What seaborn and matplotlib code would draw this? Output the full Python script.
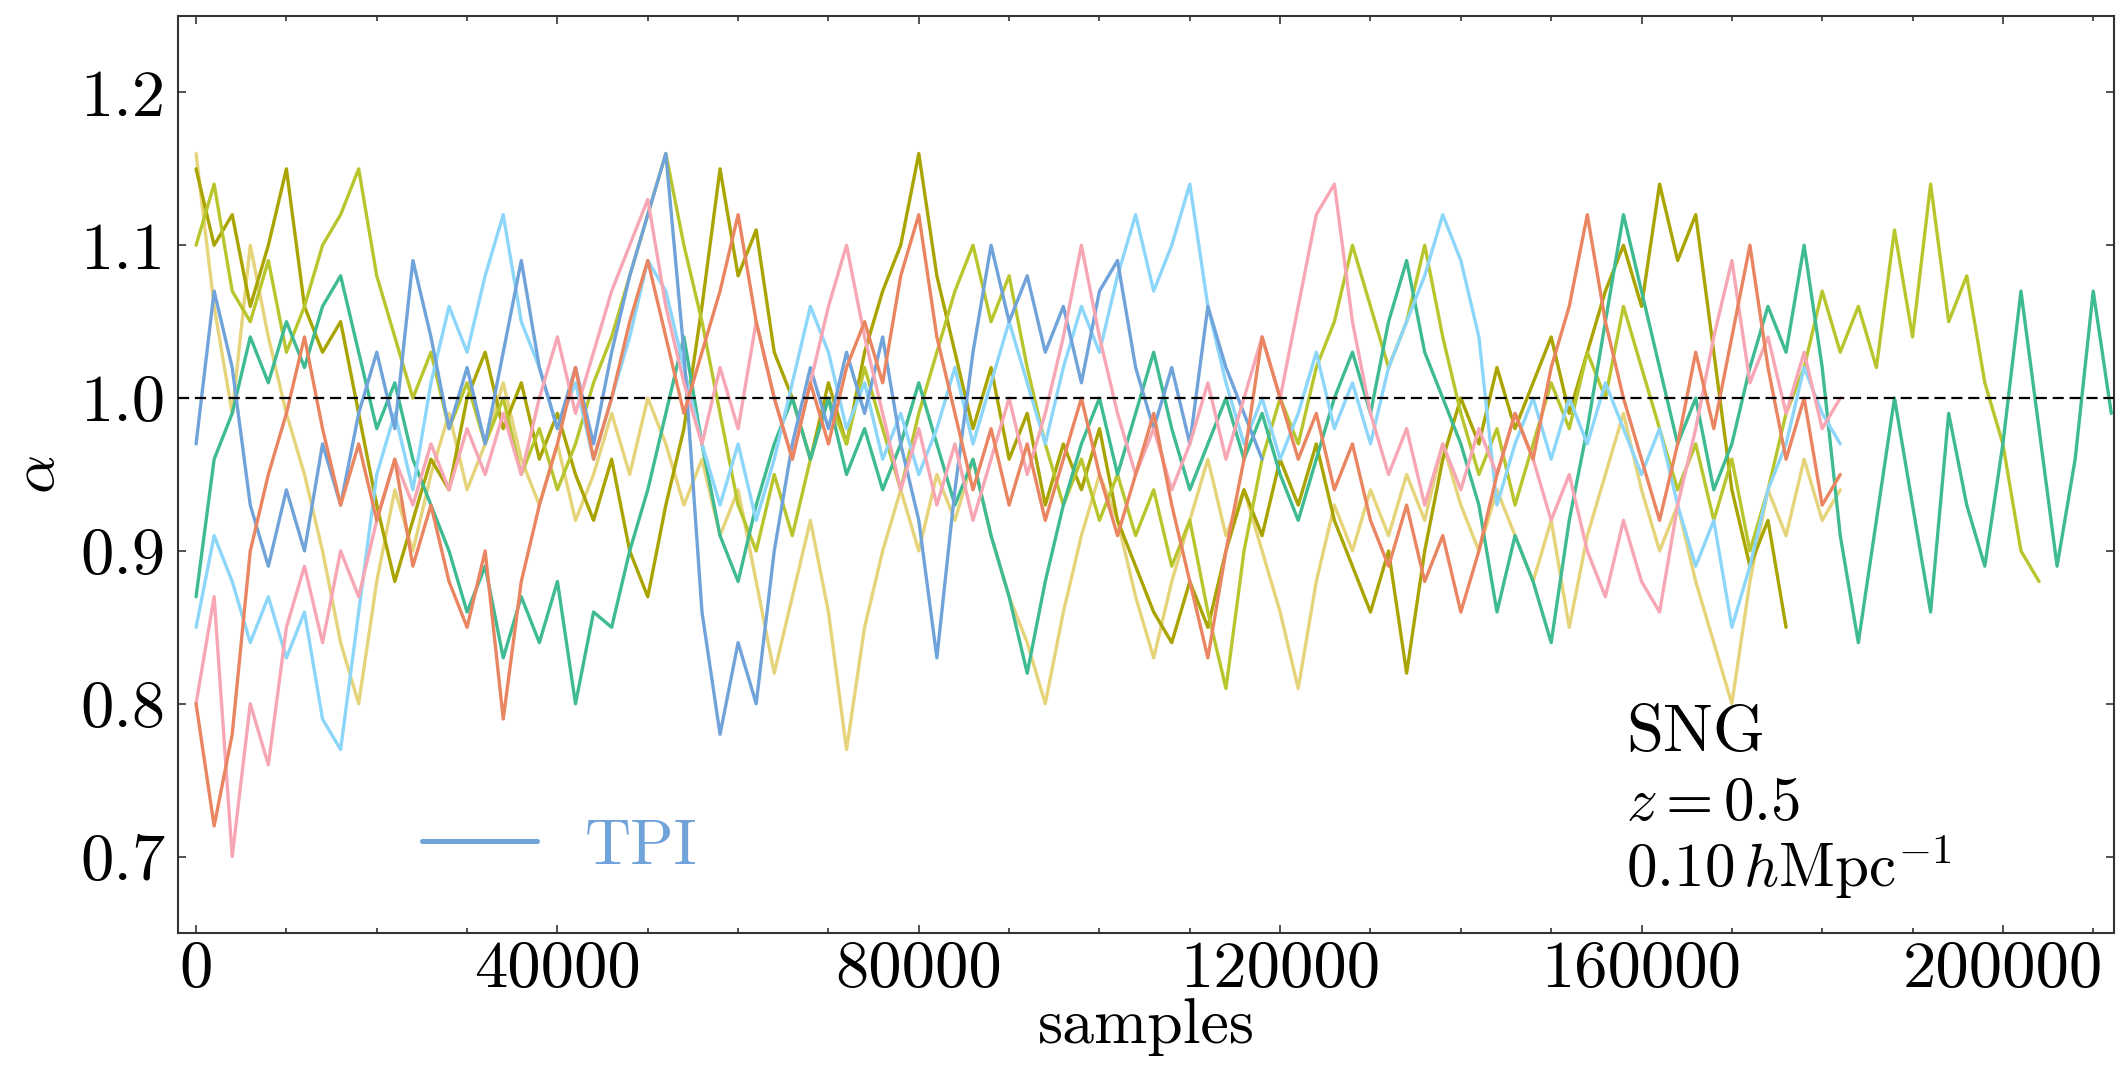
import numpy as np
import pandas as pd
import matplotlib
matplotlib.use("Agg")
import matplotlib.pyplot as plt
from matplotlib.ticker import MultipleLocator
import seaborn as sns

# ---------------- data (one value every STEP samples) -------------
STEP = 2000

olive = [1.15, 1.10, 1.12, 1.06, 1.10, 1.15, 1.06, 1.03, 1.05, 0.99, 0.93, 0.88, 0.92, 0.96, 0.94,
         1.00, 1.03, 0.98, 1.01, 0.96, 0.99, 0.95, 0.92, 0.96, 0.90, 0.87, 0.93, 0.98, 1.06, 1.15,
         1.08, 1.11, 1.03, 1.00, 0.96, 1.01, 0.97, 1.03, 1.07, 1.10, 1.16, 1.08, 1.03, 0.98, 1.02,
         0.96, 0.99, 0.93, 0.97, 0.94, 0.98, 0.92, 0.89, 0.86, 0.84, 0.88, 0.85, 0.90, 0.94, 0.91,
         0.96, 0.93, 0.97, 0.92, 0.89, 0.86, 0.90, 0.82, 0.90, 0.96, 1.00, 0.97, 1.02, 0.98, 1.01,
         1.04, 0.99, 1.03, 1.07, 1.10, 1.06, 1.14, 1.09, 1.12, 1.03, 0.94, 0.89, 0.92, 0.85]

yellowgreen = [1.10, 1.14, 1.07, 1.05, 1.09, 1.03, 1.06, 1.10, 1.12, 1.15, 1.08, 1.04, 1.00, 1.03,
               0.98, 1.01, 0.97, 1.00, 0.95, 0.98, 0.94, 0.97, 1.01, 1.04, 1.08, 1.12, 1.16, 1.10,
               1.05, 0.99, 0.93, 0.90, 0.95, 0.91, 0.96, 1.00, 0.97, 1.02, 0.98, 0.94, 0.99, 1.03,
               1.07, 1.10, 1.05, 1.08, 1.02, 0.97, 0.93, 0.96, 0.92, 0.95, 0.91, 0.94, 0.89, 0.92,
               0.86, 0.81, 0.90, 0.96, 1.00, 0.97, 1.02, 1.05, 1.10, 1.06, 1.02, 1.05, 1.10, 1.04,
               0.99, 0.95, 0.98, 0.93, 0.97, 1.01, 0.98, 1.03, 1.00, 1.06, 1.02, 0.98, 0.94, 0.97,
               0.92, 0.96, 0.90, 0.94, 0.99, 1.02, 1.07, 1.03, 1.06, 1.02, 1.11, 1.04, 1.14, 1.05,
               1.08, 1.01, 0.97, 0.90, 0.88]

teal = [0.87, 0.96, 0.99, 1.04, 1.01, 1.05, 1.02, 1.06, 1.08, 1.03, 0.98, 1.01, 0.96, 0.93, 0.90,
        0.86, 0.89, 0.83, 0.87, 0.84, 0.88, 0.80, 0.86, 0.85, 0.90, 0.94, 0.99, 1.04, 0.97, 0.91,
        0.88, 0.93, 0.97, 1.00, 0.96, 1.00, 0.95, 0.98, 0.94, 0.97, 1.01, 0.97, 0.93, 0.96, 0.91,
        0.87, 0.82, 0.88, 0.93, 0.97, 1.00, 0.95, 0.99, 1.03, 0.98, 0.94, 0.97, 1.00, 0.96, 0.99,
        0.95, 0.92, 0.96, 1.00, 1.03, 0.99, 1.05, 1.09, 1.03, 1.00, 0.97, 0.93, 0.86, 0.91, 0.88,
        0.84, 0.92, 0.98, 1.05, 1.12, 1.07, 1.02, 0.97, 1.00, 0.94, 0.97, 1.02, 1.06, 1.03, 1.10,
        1.02, 0.91, 0.84, 0.92, 1.00, 0.93, 0.86, 0.99, 0.93, 0.89, 0.97, 1.07, 0.98, 0.89, 0.96,
        1.07, 0.99]

lightblue = [0.85, 0.91, 0.88, 0.84, 0.87, 0.83, 0.86, 0.79, 0.77, 0.86, 0.95, 0.99, 0.94, 1.01,
             1.06, 1.03, 1.08, 1.12, 1.05, 1.02, 0.98, 1.01, 0.96, 1.00, 1.04, 1.09, 1.07, 1.02,
             0.97, 0.93, 0.97, 0.92, 0.96, 1.01, 1.06, 1.03, 0.98, 1.01, 0.96, 0.99, 0.95, 0.98,
             1.02, 0.97, 1.01, 1.05, 1.01, 0.97, 1.02, 1.06, 1.03, 1.08, 1.12, 1.07, 1.10, 1.14,
             1.06, 1.01, 0.97, 1.00, 0.96, 0.99, 1.03, 0.98, 1.01, 0.97, 1.02, 1.05, 1.08, 1.12,
             1.09, 1.04, 0.93, 0.97, 1.00, 0.96, 1.00, 0.97, 1.01, 0.98, 0.95, 0.98, 0.93, 0.89,
             0.92, 0.85, 0.89, 0.94, 0.97, 1.02, 0.99, 0.97]

tpi = [0.97, 1.07, 1.02, 0.93, 0.89, 0.94, 0.90, 0.97, 0.93, 0.99, 1.03, 0.98, 1.09, 1.04, 0.98,
       1.02, 0.97, 1.03, 1.09, 1.02, 0.98, 1.02, 0.97, 1.03, 1.08, 1.12, 1.16, 1.03, 0.86, 0.78,
       0.84, 0.80, 0.90, 0.97, 1.02, 0.98, 1.03, 0.99, 1.04, 0.97, 0.92, 0.83, 0.94, 1.03, 1.10,
       1.05, 1.08, 1.03, 1.06, 1.01, 1.07, 1.09, 1.02, 0.98, 1.02, 0.97, 1.06, 1.02, 0.99, 0.96]

salmon = [0.80, 0.72, 0.78, 0.90, 0.95, 0.99, 1.04, 0.98, 0.93, 0.97, 0.92, 0.96, 0.89, 0.93,
          0.88, 0.85, 0.90, 0.79, 0.88, 0.93, 0.97, 1.02, 0.96, 1.00, 1.05, 1.09, 1.04, 0.99,
          1.03, 1.07, 1.12, 1.05, 1.00, 0.96, 1.01, 0.97, 1.02, 1.05, 1.01, 1.08, 1.12, 1.04,
          0.99, 0.94, 0.98, 0.93, 0.97, 0.92, 0.96, 1.00, 0.95, 0.91, 0.95, 0.99, 0.93, 0.88,
          0.83, 0.90, 0.96, 1.04, 1.00, 0.96, 0.99, 0.94, 0.97, 0.92, 0.89, 0.93, 0.88, 0.91,
          0.86, 0.90, 0.95, 0.99, 0.96, 1.02, 1.06, 1.12, 1.05, 1.00, 0.96, 0.92, 0.97, 1.03,
          0.98, 1.04, 1.10, 1.02, 0.96, 1.00, 0.93, 0.95]

pink = [0.80, 0.87, 0.70, 0.80, 0.76, 0.85, 0.89, 0.84, 0.90, 0.87, 0.92, 0.96, 0.93, 0.97, 0.94,
        0.98, 0.95, 0.99, 0.95, 1.00, 1.04, 0.99, 1.03, 1.07, 1.10, 1.13, 1.06, 1.01, 0.97, 1.02,
        0.98, 1.05, 1.00, 0.96, 1.01, 1.06, 1.10, 1.04, 0.99, 0.94, 0.98, 0.93, 0.97, 0.92, 0.96,
        1.00, 0.95, 0.99, 1.04, 1.10, 1.04, 0.99, 0.95, 0.98, 0.94, 0.97, 1.01, 0.96, 1.00, 1.04,
        1.00, 1.06, 1.12, 1.14, 1.05, 0.99, 0.95, 0.98, 0.93, 0.97, 0.94, 0.98, 0.95, 0.99, 0.96,
        0.92, 0.95, 0.90, 0.87, 0.92, 0.88, 0.86, 0.93, 0.98, 1.04, 1.09, 1.01, 1.04, 0.99, 1.03,
        0.98, 1.00]

khaki = [1.16, 1.06, 0.99, 1.10, 1.04, 0.99, 0.95, 0.90, 0.84, 0.80, 0.88, 0.94, 0.90, 0.95, 0.99,
         0.94, 0.97, 1.01, 0.96, 0.93, 0.97, 0.92, 0.95, 0.99, 0.95, 1.00, 0.97, 0.93, 0.96, 0.91,
         0.94, 0.88, 0.82, 0.87, 0.92, 0.86, 0.77, 0.85, 0.90, 0.94, 0.90, 0.95, 0.92, 0.96, 0.91,
         0.87, 0.84, 0.80, 0.86, 0.91, 0.95, 0.92, 0.87, 0.83, 0.88, 0.92, 0.96, 0.91, 0.94, 0.90,
         0.86, 0.81, 0.88, 0.93, 0.90, 0.94, 0.91, 0.95, 0.92, 0.97, 0.93, 0.90, 0.94, 0.91, 0.88,
         0.92, 0.85, 0.91, 0.95, 0.99, 0.94, 0.90, 0.93, 0.88, 0.84, 0.80, 0.88, 0.94, 0.91, 0.96,
         0.92, 0.94]

chain_names = ["khaki", "olive", "yellowgreen", "teal", "lightblue", "TPI", "pink", "salmon"]
chain_values = [khaki, olive, yellowgreen, teal, lightblue, tpi, pink, salmon]
chain_colors = ["#e6d47b", "#a9a400", "#b8c52d", "#3fbb93", "#8cd6fa", "#70a3da", "#f7a6b4", "#ea8562"]

xticks = [0, 40000, 80000, 120000, 160000, 200000]
yticks = [0.7, 0.8, 0.9, 1.0, 1.1, 1.2]
reference_value = 1.0

# ---------------- style ----------------
sns.set_style("ticks")
plt.rcParams["font.family"] = ["cmr10", "DejaVu Serif"]
plt.rcParams["mathtext.fontset"] = "cm"
plt.rcParams["axes.formatter.use_mathtext"] = True
plt.rcParams["axes.unicode_minus"] = False
for key in ["text.color", "axes.labelcolor", "xtick.labelcolor", "ytick.labelcolor"]:
    plt.rcParams[key] = "black"

W, H = 2125, 1070
fig = plt.figure(figsize=(W / 100, H / 100), dpi=100)
L, R, T, B = 178, 2114, 16, 933
ax = fig.add_axes([L / W, 1 - B / H, (R - L) / W, (B - T) / H])

frames = []
for name, vals in zip(chain_names, chain_values):
    frames.append(pd.DataFrame({"chain": name,
                                "samples": np.arange(len(vals)) * STEP,
                                "alpha": vals}))
df = pd.concat(frames, ignore_index=True)

for name, col in zip(chain_names, chain_colors):
    sub = df[df["chain"] == name]
    sns.lineplot(data=sub, x="samples", y="alpha", color=col, lw=2.4,
                 estimator=None, sort=False, errorbar=None,
                 label=("TPI" if name == "TPI" else None), legend=(name == "TPI"), ax=ax)

ax.axhline(reference_value, color="k", ls="--", lw=1.6, dashes=(5, 2.6), zorder=10)

ax.set_xlim(-2000, 212300)
ax.set_ylim(0.65, 1.25)
ax.set_xticks(xticks)
ax.set_xticklabels([str(v) for v in xticks])
ax.set_yticks(yticks)
ax.set_yticklabels([f"{v:.1f}" for v in yticks])
ax.xaxis.set_minor_locator(MultipleLocator(10000))

ax.tick_params(which="both", direction="in", top=True, right=True, width=1.2, color="#333333")
ax.tick_params(which="major", length=6, labelsize=48, labelcolor="black")
ax.tick_params(axis="x", which="major", pad=5)
ax.tick_params(axis="y", which="major", pad=9)
ax.tick_params(which="minor", length=3.6)
for s in ax.spines.values():
    s.set_linewidth(1.5)
    s.set_color("#333333")

ax.set_xlabel("samples", fontsize=46, color="black")
ax.set_ylabel(r"$\alpha$", fontsize=44, color="black")
ax.xaxis.set_label_coords(0.5, -0.071)
ax.yaxis.set_label_coords(-0.058, 0.5)

leg = ax.legend(loc="center left", bbox_to_anchor=(0.126, 0.093), frameon=False,
                handlelength=1.8, handletextpad=0.75, borderpad=0, borderaxespad=0,
                labelcolor="linecolor", fontsize=46)
for ln in leg.get_lines():
    ln.set_linewidth(3.6)

tx = 0.748
ax.text(tx, 0.199, "SNG", transform=ax.transAxes, fontsize=48, va="baseline", ha="left", color="black")
ax.text(tx, 0.123, r"$z=0.5$", transform=ax.transAxes, fontsize=44, va="baseline", ha="left", color="black")
ax.text(tx, 0.050, r"$0.10\,h{\rm Mpc}^{-1}$", transform=ax.transAxes, fontsize=44,
        va="baseline", ha="left", color="black")

fig.savefig("out.png", dpi=100, facecolor="white")
